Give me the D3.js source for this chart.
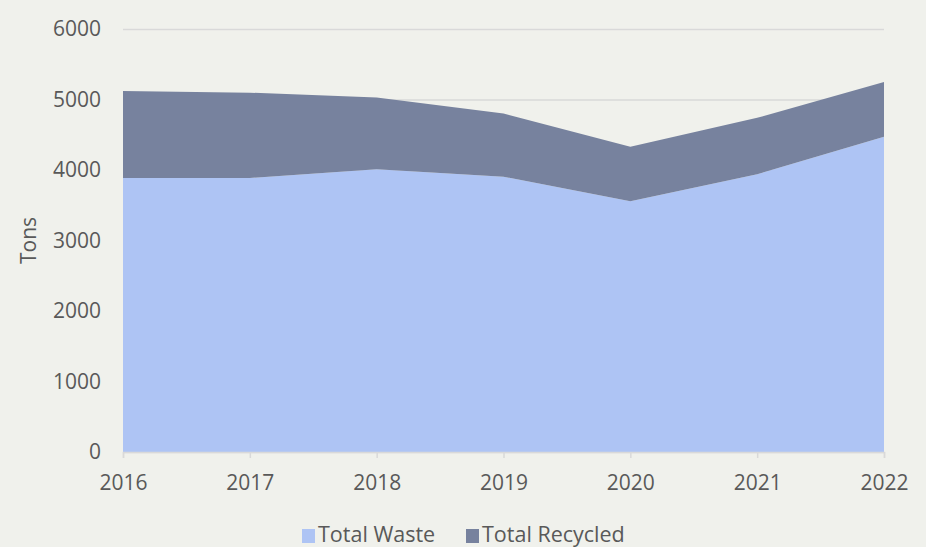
<!DOCTYPE html>
<html>
<head>
<meta charset="utf-8">
<script src="https://cdn.jsdelivr.net/npm/d3@7"></script>
<style>
  html, body { margin: 0; padding: 0; background: #f0f1ec; }
  svg { display: block; font-family: "Open Sans", sans-serif; }
</style>
</head>
<body>
<div id="chart"></div>
<script>
// stacked area: waste at the bottom, recycled on top
const years = ["2016", "2017", "2018", "2019", "2020", "2021", "2022"];
const totalWaste = [3887, 3887, 4010, 3905, 3556, 3940, 4470];
const totalRecycled = [1233, 1210, 1020, 895, 774, 800, 780];
const yTicks = [0, 1000, 2000, 3000, 4000, 5000, 6000];
const seriesNames = ["Total Waste", "Total Recycled"];
const colors = ["#aec4f4", "#77829e"];

const W = 926, H = 547;
const margin = { top: 29, right: 42, bottom: 95, left: 123 };
const w = W - margin.left - margin.right, h = H - margin.top - margin.bottom;

const rows = years.map((yr, i) => ({ year: yr, waste: totalWaste[i], recycled: totalRecycled[i] }));
const stack = d3.stack().keys(["waste", "recycled"])(rows);

const svg = d3.select("#chart").append("svg")
  .attr("width", W).attr("height", H);
svg.append("rect").attr("width", W).attr("height", H).attr("fill", "#f0f1ec");
const g = svg.append("g").attr("transform", `translate(${margin.left},${margin.top})`);

const x = d3.scalePoint().domain(years).range([0, w]);
const y = d3.scaleLinear().domain([0, 6000]).range([h, 0]);

// gridlines
g.append("g")
  .call(d3.axisLeft(y).tickValues(yTicks).tickSize(-w).tickFormat(""))
  .call(s => s.select(".domain").remove())
  .selectAll("line").attr("stroke", "#d9d9d9").attr("stroke-width", 1.5);

const area = d3.area()
  .x(d => x(d.data.year))
  .y0(d => y(d[0]))
  .y1(d => y(d[1]));

g.selectAll("path.layer").data(stack).join("path")
  .attr("class", "layer")
  .attr("fill", (d, i) => colors[i])
  .attr("d", area);

// bottom axis
g.append("g").attr("transform", `translate(0,${h})`)
  .call(d3.axisBottom(x).tickSize(6).tickPadding(17))
  .call(s => s.select(".domain").attr("stroke", "#d9d9d9").attr("stroke-width", 1.5))
  .call(s => s.selectAll("line").attr("stroke", "#d9d9d9").attr("stroke-width", 1.5))
  .selectAll("text").attr("fill", "#595959").attr("font-size", 21)
  .attr("font-family", "'Open Sans', sans-serif");

// left axis
g.append("g")
  .call(d3.axisLeft(y).tickValues(yTicks).tickSize(0).tickPadding(22).tickFormat(d3.format("d")))
  .call(s => s.select(".domain").remove())
  .selectAll("text").attr("fill", "#595959").attr("font-size", 21)
  .attr("font-family", "'Open Sans', sans-serif");

// y title
svg.append("text")
  .attr("transform", `translate(36,${margin.top + h / 2}) rotate(-90)`)
  .attr("text-anchor", "middle").attr("fill", "#595959").attr("font-size", 21)
  .text("Tons");

// legend
const legend = svg.append("g").attr("transform", "translate(302,529)");
const legendX = [0, 164];
seriesNames.forEach((name, i) => {
  const lg = legend.append("g").attr("transform", `translate(${legendX[i]},0)`);
  lg.append("rect").attr("width", 13).attr("height", 14).attr("fill", colors[i]);
  lg.append("text").attr("x", 16).attr("y", 13).attr("fill", "#595959")
    .attr("font-size", 21.5).text(name);
});
</script>
</body>
</html>
